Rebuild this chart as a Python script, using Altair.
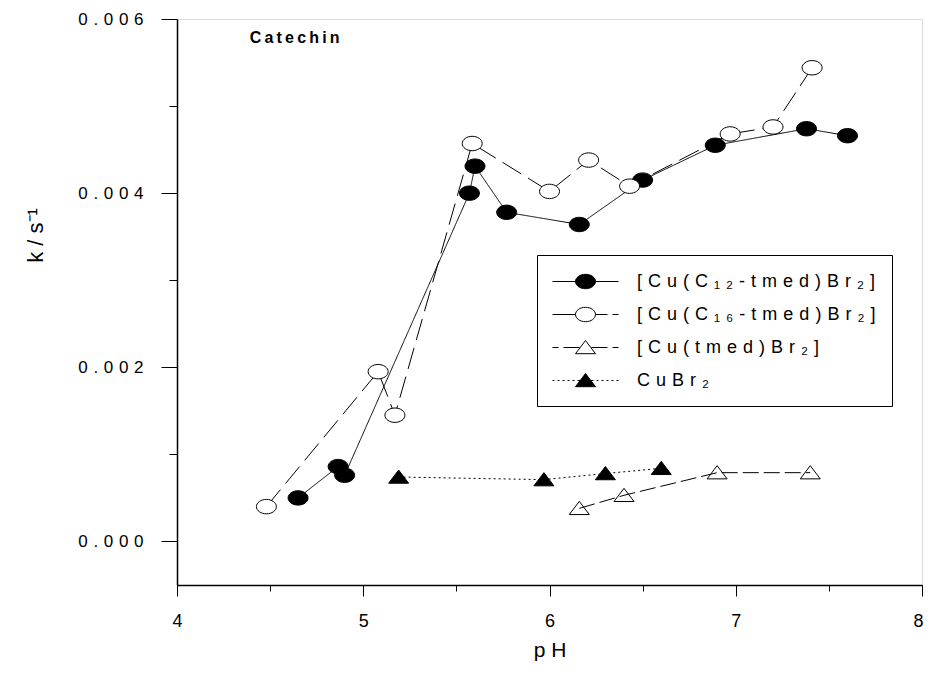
import altair as alt
import pandas as pd

# ---------------- data ----------------
series_names = ["[Cu(C₁₂-tmed)Br₂]", "[Cu(C₁₆-tmed)Br₂]", "[Cu(tmed)Br₂]", "CuBr₂"]

c12_ph = [4.65, 4.865, 4.90, 5.57, 5.60, 5.77, 6.16, 6.50, 6.89, 7.38, 7.60]
c12_k = [0.00050, 0.00086, 0.00076, 0.00400, 0.00431, 0.00378, 0.00364, 0.00415, 0.00455, 0.00474, 0.00466]

c16_ph = [4.48, 5.08, 5.17, 5.585, 6.00, 6.21, 6.43, 6.97, 7.20, 7.41]
c16_k = [0.00040, 0.00195, 0.00145, 0.00457, 0.00402, 0.00438, 0.00408, 0.00468, 0.00476, 0.00544]

tmed_ph = [6.16, 6.40, 6.90, 7.40]
tmed_k = [0.00038, 0.00053, 0.00079, 0.00079]

cubr_ph = [5.19, 5.97, 6.30, 6.60]
cubr_k = [0.00074, 0.00071, 0.00078, 0.00084]

x_ticks = [4, 4.5, 5, 5.5, 6, 6.5, 7, 7.5, 8]
y_ticks = [0, 0.001, 0.002, 0.003, 0.004, 0.005, 0.006]

annotation_text = ["Catechin"]
annotation_ph = [4.39]
annotation_k = [0.00578]

# ---------------- styles ----------------
ELL = "M-1,0A1,0.72,0,1,0,1,0A1,0.72,0,1,0,-1,0Z"
TRI = "M0,-0.7L1,0.62L-1,0.62Z"
marker_paths = [ELL, ELL, TRI, TRI]
fills = ["black", "white", "transparent", "black"]
dashes = [[1, 0], [22, 8], [16, 5], [2, 3]]

# legend symbols: line segment + marker
leg_paths = [
    "M-3.3,0L-1,0M1,0L3.3,0" + ELL,
    "M-3.3,0L-1,0M1,0L2.2,0M2.7,0L3.3,0" + ELL,
    "M-3.3,0L-2.7,0M-2.2,0L-0.6,0M0.6,0L2.2,0M2.7,0L3.3,0" + TRI,
    "M-3.3,0L-3.1,0M-2.8,0L-2.6,0M-2.3,0L-2.1,0M-1.8,0L-1.6,0M-1.3,0L-1.1,0M-0.8,0L-0.5,0"
    "M0.5,0L0.8,0M1.1,0L1.3,0M1.6,0L1.8,0M2.1,0L2.3,0M2.6,0L2.8,0M3.1,0L3.3,0" + TRI,
]

rows = []
for name, xs, ys in zip(series_names, [c12_ph, c16_ph, tmed_ph, cubr_ph], [c12_k, c16_k, tmed_k, cubr_k]):
    for a, b in zip(xs, ys):
        rows.append({"pH": a, "k": b, "series": name})
df = pd.DataFrame(rows)

FONT = "Liberation Sans"
SP = "\u2004"

x_enc = alt.X(
    "pH:Q",
    scale=alt.Scale(domain=[4, 8], nice=False, zero=False),
    axis=alt.Axis(
        values=x_ticks,
        format="~g",
        labelExpr="datum.value % 1 == 0 ? datum.label : ''",
        tickSize={"condition": {"test": "datum.value % 1 == 0", "value": 11}, "value": 6},
        labelAlign={"condition": {"test": "datum.value == 8", "value": "right"}, "value": "center"},
        labelOffset={"condition": {"test": "datum.value == 8", "value": 1}, "value": 0},
        tickColor="black",
        tickWidth=1,
        domainColor="black",
        domainWidth=1.5,
        grid=False,
        labelFont=FONT,
        labelFontSize=18,
        labelColor="black",
        labelPadding=16,
        labelFlush=False,
        labelOverlap=False,
        title="p H",
        titleFont=FONT,
        titleFontSize=21,
        titleFontWeight="normal",
        titleColor="black",
        titleY=65,
        titleBaseline="middle",
    ),
)

y_enc = alt.Y(
    "k:Q",
    scale=alt.Scale(domain=[-0.0005, 0.006], nice=False, zero=False),
    axis=alt.Axis(
        values=y_ticks,
        format=".3f",
        labelExpr="round(datum.value*1000) % 2 == 0 ? join(split(datum.label, ''), '" + SP + "') : ''",
        tickSize={"condition": {"test": "round(datum.value*1000) % 2 == 0", "value": 16}, "value": 8},
        tickColor="black",
        tickWidth=1,
        domainColor="black",
        domainWidth=1.5,
        grid=False,
        labelFont=FONT,
        labelFontSize=17,
        labelColor="black",
        labelPadding=18,
        labelOverlap=False,
        title="k / s⁻¹",
        titleFont=FONT,
        titleFontSize=22,
        titleFontWeight="normal",
        titleColor="black",
        titleAngle=270,
        titleX=-142,
        titleY=216,
        titleAlign="center",
        titleBaseline="middle",
    ),
)

base = alt.Chart(df)

lines = base.mark_line(color="black", strokeWidth=1).encode(
    x=x_enc,
    y=y_enc,
    detail="series:N",
    strokeDash=alt.StrokeDash("series:N", scale=alt.Scale(domain=series_names, range=dashes), legend=None),
)

points = base.mark_point(filled=True, size=400, stroke="black", strokeWidth=1, opacity=1).encode(
    x=x_enc,
    y=y_enc,
    shape=alt.Shape("series:N", scale=alt.Scale(domain=series_names, range=marker_paths), legend=None),
    fill=alt.Fill("series:N", scale=alt.Scale(domain=series_names, range=fills), legend=None),
)

leg = alt.Legend(
    title=None,
    orient="none",
    legendX=360,
    legendY=236,
    fillColor="white",
    strokeColor="black",
    padding=16,
    symbolOffset=22,
    labelOffset=41,
    rowPadding=13,
    labelFont=FONT,
    labelFontSize=18,
    labelColor="black",
    labelLimit=400,
    labelExpr="join(split(datum.label, ''), '" + SP + "')",
    symbolStrokeColor="black",
    symbolStrokeWidth=1,
    symbolSize=400,
)

legend_layer = base.transform_filter("false").mark_point(
    filled=True, size=400, strokeWidth=1, opacity=1
).encode(
    x=x_enc,
    y=y_enc,
    shape=alt.Shape("series:N", scale=alt.Scale(domain=series_names, range=leg_paths), legend=leg),
    fill=alt.Fill("series:N", scale=alt.Scale(domain=series_names, range=fills), legend=leg),
    stroke=alt.Stroke("series:N", scale=alt.Scale(domain=series_names, range=["black"] * 4), legend=leg),
)

ann_df = pd.DataFrame({"pH": annotation_ph, "k": annotation_k, "t": annotation_text})
annotation = alt.Chart(ann_df).transform_calculate(
    lbl="join(split(datum.t, ''), '\u2009')"
).mark_text(
    align="left", baseline="middle", font=FONT, fontSize=16, fontWeight="bold", color="black"
).encode(x=x_enc, y=y_enc, text="lbl:N")

chart = (
    alt.layer(lines, points, legend_layer, annotation)
    .resolve_scale(shape="independent", fill="independent", stroke="independent")
    .properties(
        width=745,
        height=566,
        autosize=alt.AutoSizeParams(type="none"),
        padding={"left": 169, "top": 11, "right": 2, "bottom": 76},
    )
    .configure_view(stroke="black", strokeWidth=1.5)
    .configure(background="white")
)

chart.save("out.html", embed_options={"renderer": "svg", "actions": False})
